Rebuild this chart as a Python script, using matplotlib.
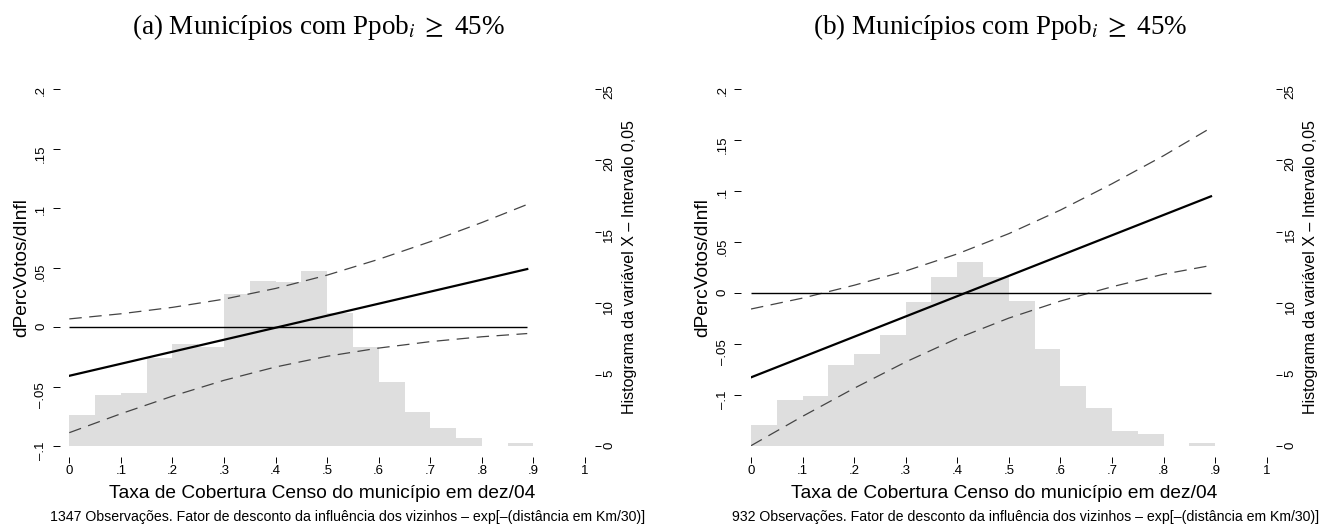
import matplotlib as mpl
mpl.use("Agg")
import matplotlib.pyplot as plt
import numpy as np

plt.rcParams["font.family"] = ["Liberation Sans", "DejaVu Sans"]
plt.rcParams["mathtext.fontset"] = "stix"

# histogram bins (taxa de cobertura) and percentages per bin
bins = [0.00, 0.05, 0.10, 0.15, 0.20, 0.25, 0.30, 0.35, 0.40, 0.45,
        0.50, 0.55, 0.60, 0.65, 0.70, 0.75, 0.80, 0.85, 0.90]
pct_a = [2.15, 3.55, 3.72, 6.13, 7.13, 6.95, 10.64, 11.58, 11.50, 12.25,
         9.28, 6.95, 4.49, 2.39, 1.26, 0.58, 0.00, 0.21]
pct_b = [1.50, 3.20, 3.51, 5.64, 6.41, 7.76, 10.10, 11.81, 12.86, 11.81,
         10.17, 6.81, 4.21, 2.67, 1.03, 0.82, 0.00, 0.23]

# marginal effect and confidence bands
x_a = [0.0, 0.1, 0.2, 0.3, 0.4, 0.5, 0.6, 0.7, 0.8, 0.888]
eff_a = [-0.0410, -0.0309, -0.0208, -0.0107, -0.0006, 0.0095, 0.0196, 0.0297, 0.0398, 0.0487]
hi_a = [0.0068, 0.0111, 0.0165, 0.0234, 0.0324, 0.0436, 0.0569, 0.0717, 0.0878, 0.1030]
lo_a = [-0.0888, -0.0729, -0.0581, -0.0448, -0.0336, -0.0246, -0.0177, -0.0123, -0.0082, -0.0055]

x_b = [0.0, 0.1, 0.2, 0.3, 0.4, 0.5, 0.6, 0.7, 0.8, 0.892]
eff_b = [-0.0827, -0.0628, -0.0429, -0.0230, -0.0031, 0.0168, 0.0367, 0.0566, 0.0765, 0.0948]
hi_b = [-0.0157, -0.0050, 0.0076, 0.0216, 0.0383, 0.0582, 0.0813, 0.1071, 0.1346, 0.1620]
lo_b = [-0.1497, -0.1209, -0.0934, -0.0676, -0.0445, -0.0246, -0.0079, 0.0061, 0.0184, 0.0270]

xticks = [0, .1, .2, .3, .4, .5, .6, .7, .8, .9, 1]
xticklabels = ["0", ".1", ".2", ".3", ".4", ".5", ".6", ".7", ".8", ".9", "1"]
yticks = [-.1, -.05, 0, .05, .1, .15, .2]
yticklabels = ["\u2013.1", "\u2013.05", "0", ".05", ".1", ".15", ".2"]
rticks = [0, 5, 10, 15, 20, 25]

titles = ["(a) Municípios com Ppob$_i\\;\\geq$ 45%", "(b) Municípios com Ppob$_i\\;\\geq$ 45%"]
notes = ["1347 Observações. Fator de desconto da influência dos vizinhos \u2013 exp[\u2013(distância em Km/30)]",
         "932 Observações. Fator de desconto da influência dos vizinhos \u2013 exp[\u2013(distância em Km/30)]"]

W, H = 1320, 527
fig = plt.figure(figsize=(W / 100, H / 100), dpi=100)
fig.patch.set_facecolor("white")


def panel(left_px, ymin, x, eff, hi, lo, pct, title, note):
    ax = fig.add_axes([left_px / W, (H - 446) / H, 515.7 / W, 357 / H])
    ax2 = ax.twinx()
    ax.set_zorder(ax2.get_zorder() + 1)
    ax.patch.set_visible(False)

    ax2.bar(bins[:-1], pct, width=np.diff(bins), align="edge",
            color="#dedede", linewidth=0)
    ax2.set_ylim(0, 25)
    ax2.set_yticks(rticks)
    ax2.set_yticklabels([str(t) for t in rticks])

    ax.plot(x, hi, color="#444444", lw=0.9, dashes=(10, 6))
    ax.plot(x, lo, color="#444444", lw=0.9, dashes=(10, 6))
    ax.hlines(0, x[0], x[-1], color="black", lw=1.0)
    ax.plot(x, eff, color="black", lw=1.6)

    ax.set_xlim(0, 1)
    ax.set_ylim(ymin, 0.2)
    ax.set_xticks(xticks)
    ax.set_xticklabels(xticklabels)
    ax.set_yticks(yticks)
    ax.set_yticklabels(yticklabels)

    for a in (ax, ax2):
        for s in a.spines.values():
            s.set_visible(False)
    ax.spines["left"].set_position(("outward", 7))
    ax.spines["bottom"].set_position(("outward", 8))
    ax2.spines["right"].set_position(("outward", 7))

    ax.tick_params(axis="x", length=4, width=0.7, pad=1.5, labelsize=9.5)
    ax.tick_params(axis="y", length=5, width=0.7, pad=4, labelsize=9.5, labelrotation=90)
    ax2.tick_params(axis="y", length=4, width=0.7, pad=2, labelsize=9.5, labelrotation=90)

    ax.set_xlabel("Taxa de Cobertura Censo do município em dez/04", fontsize=13.8)
    ax.xaxis.set_label_coords(0.49, -0.095 - 14 / 357)
    ax.xaxis.label.set_va("center")
    ax.set_ylabel("dPercVotos/dInfl", fontsize=13.8)
    ax.yaxis.set_label_coords(-48 / 515.7, 0.5)
    ax.yaxis.label.set_va("center")
    ax2.set_ylabel("Histograma da variável X \u2013 Intervalo 0,05", fontsize=11.5)
    ax2.yaxis.set_label_coords(1 + 44 / 515.7, 0.5)
    ax2.yaxis.label.set_va("center")
    ax2.yaxis.label.set_rotation(90)

    cx = (left_px + 515.7 / 2) / W
    fig.text(cx - 9 / W, 1 - 27 / H, title, ha="center", va="center",
             fontsize=19.5, family=["Liberation Serif", "DejaVu Serif"])
    fig.text((left_px - 19) / W, 1 - 517 / H, note, ha="left", va="center", fontsize=10.2)


panel(69.3, -0.1, x_a, eff_a, hi_a, lo_a, pct_a, titles[0], notes[0])
panel(751, -0.15, x_b, eff_b, hi_b, lo_b, pct_b, titles[1], notes[1])

fig.savefig("out.png", dpi=100)
